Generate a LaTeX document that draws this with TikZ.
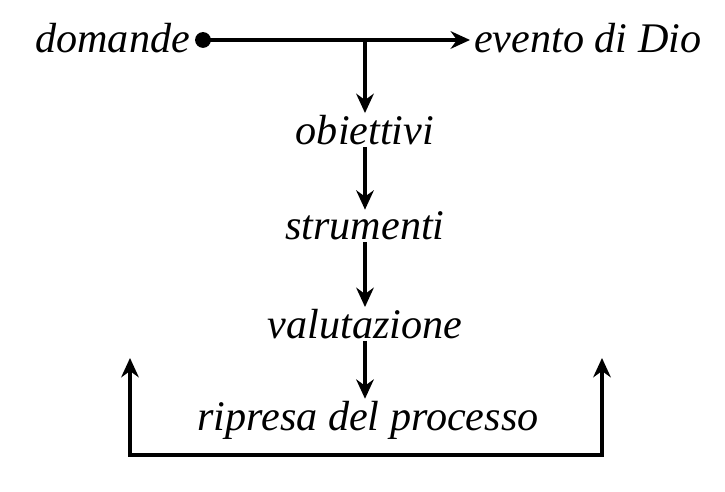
\documentclass[tikz,border=0pt]{standalone}
\usepackage{fontspec}
\setmainfont{Liberation Serif}
\usetikzlibrary{positioning, calc, arrows.meta}

\begin{document}
\begin{tikzpicture}[x=0.02cm, y=-0.02cm,
    word/.style={font=\fontsize{24}{26}\selectfont\itshape, inner sep=1pt},
    link/.style={line width=2.2pt, -{Stealth[length=11pt, width=10pt]}}]
    \useasboundingbox (0,0) rectangle (725,492);

    % parole
    \node[word, anchor=east] (dom) at (192,38) {domande};
    \node[word, anchor=west] (dio) at (472,38) {evento di Dio};
    \node[word] (obi) at (365,130) {obiettivi};
    \node[word] (str) at (365,226) {strumenti};
    \node[word] (val) at (365,324) {valutazione};
    \node[word] (rip) at (368,420) {ripresa del processo};

    % punti di appoggio
    \coordinate (a) at (203,40);
    \coordinate (b) at (365,40);
    \coordinate (c) at (470,40);
    \coordinate (l) at (130,358);
    \coordinate (r) at (602,358);

    % frecce
    \fill (a) circle (4.5pt);
    \draw[link] (a) -- (c);
    \draw[link] (b) -- (b |- obi.north);
    \draw[link] (b |- obi.south) -- (b |- str.north);
    \draw[link] (b |- str.south) -- (b |- val.north);
    \draw[link] (b |- val.south) -- (b |- rip.north);

    % ciclo
    \draw[link, {Stealth[length=11pt, width=10pt]}-{Stealth[length=11pt, width=10pt]}]
        (l) -- (130,455) -- (602,455) -- (r);
\end{tikzpicture}
\end{document}
